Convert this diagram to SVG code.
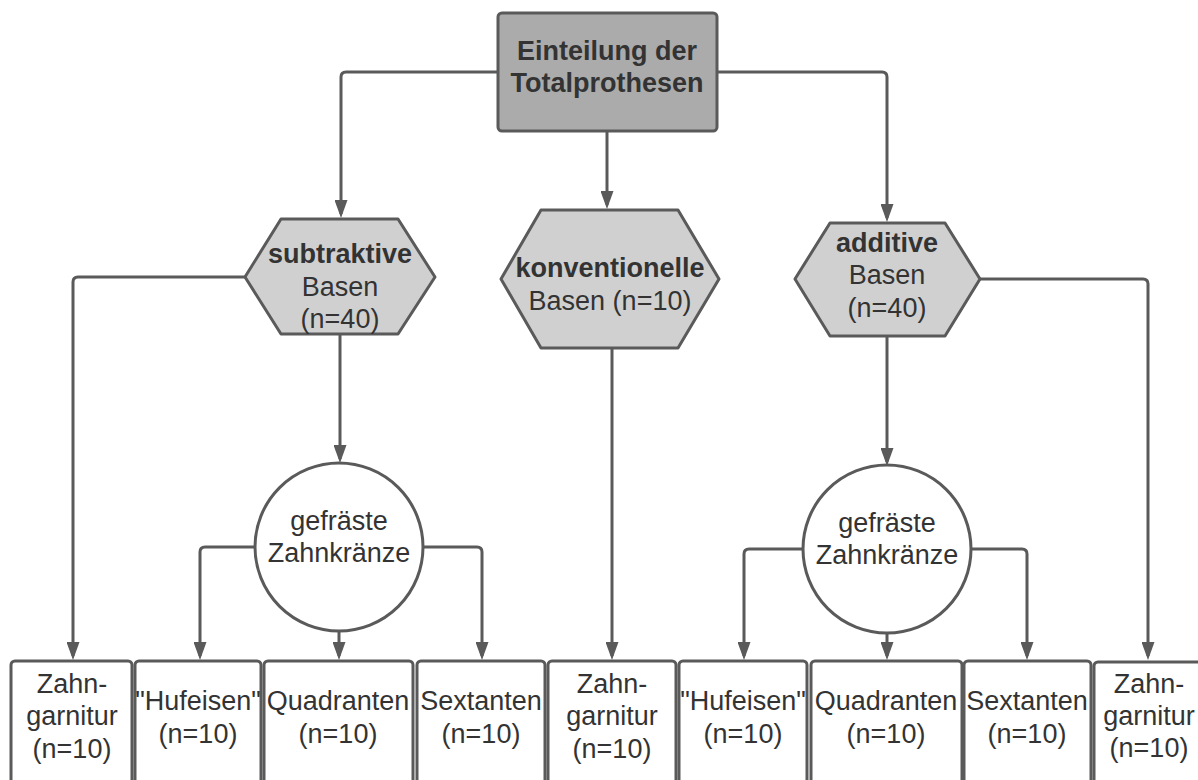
<svg xmlns="http://www.w3.org/2000/svg" width="1198" height="780" viewBox="0 0 1198 780">
<defs>
<style>
.shape{stroke:#5a5a5a;stroke-width:3;stroke-linejoin:round}
.top{fill:#ababab}
.hex{fill:#d0d0d0}
.white{fill:#ffffff}
.conn{fill:none;stroke:#5a5a5a;stroke-width:3;marker-end:url(#arrow)}
text{font-family:"Liberation Sans",Arial,sans-serif;font-size:27px;fill:#333333;text-anchor:middle}
.b{font-weight:bold}
</style>
<marker id="arrow" viewBox="0 0 18 13" refX="14" refY="6.5" markerWidth="18" markerHeight="13" markerUnits="userSpaceOnUse" orient="auto">
<path d="M0,0 L18,6.5 L0,13 z" fill="#5a5a5a"/>
</marker>
</defs>
<rect width="1198" height="780" fill="#ffffff"/>

<g id="connectors">
<path class="conn" d="M498,72 H346 Q341,72 341,77 V214"/>
<path class="conn" d="M607,131 V205"/>
<path class="conn" d="M717,72 H882 Q887,72 887,77 V218"/>
<path class="conn" d="M245,277 H78 Q73,277 73,282 V656"/>
<path class="conn" d="M340,334 V459"/>
<path class="conn" d="M255,547 H205 Q200,547 200,552 V656"/>
<path class="conn" d="M423,547 H477 Q482,547 482,552 V656"/>
<path class="conn" d="M339,631 V656"/>
<path class="conn" d="M612,349 V656"/>
<path class="conn" d="M887,337 V462"/>
<path class="conn" d="M980,279 H1143 Q1148,279 1148,284 V656"/>
<path class="conn" d="M803,549 H749 Q744,549 744,554 V656"/>
<path class="conn" d="M971,549 H1022 Q1027,549 1027,554 V656"/>
<path class="conn" d="M887,633 V656"/>
</g>

<g id="root">
<rect class="shape top" x="498" y="13" width="219" height="118" rx="4"/>
<text class="b" x="607" y="60">Einteilung der</text>
<text class="b" x="607" y="92">Totalprothesen</text>
</g>

<g id="subtraktive">
<polygon class="shape hex" points="245,277 281,219 398,219 435,277 398,334 281,334"/>
<text class="b" x="340" y="263">subtraktive</text>
<text x="340" y="296">Basen</text>
<text x="340" y="328">(n=40)</text>
</g>

<g id="konventionelle">
<polygon class="shape hex" points="501,279 541,210 678,210 719,279 678,348 541,348"/>
<text class="b" x="610" y="277">konventionelle</text>
<text x="610" y="310">Basen (n=10)</text>
</g>

<g id="additive">
<polygon class="shape hex" points="795,279 830,223 945,223 980,279 945,336 830,336"/>
<text class="b" x="887" y="252">additive</text>
<text x="887" y="284">Basen</text>
<text x="887" y="317">(n=40)</text>
</g>

<g id="circle-left">
<circle class="shape white" cx="339" cy="547" r="84"/>
<text x="339" y="530">gefräste</text>
<text x="339" y="562">Zahnkränze</text>
</g>

<g id="circle-right">
<circle class="shape white" cx="887" cy="549" r="84"/>
<text x="887" y="532">gefräste</text>
<text x="887" y="564">Zahnkränze</text>
</g>

<g id="box1">
<rect class="shape white" x="11" y="661" width="121" height="140" rx="4"/>
<text x="72" y="693">Zahn-</text>
<text x="72" y="725">garnitur</text>
<text x="72" y="758">(n=10)</text>
</g>
<g id="box2">
<rect class="shape white" x="135" y="661" width="126" height="140" rx="4"/>
<text x="198" y="710">"Hufeisen"</text>
<text x="198" y="743">(n=10)</text>
</g>
<g id="box3">
<rect class="shape white" x="264" y="661" width="149" height="140" rx="4"/>
<text x="338" y="710">Quadranten</text>
<text x="338" y="743">(n=10)</text>
</g>
<g id="box4">
<rect class="shape white" x="417" y="661" width="128" height="140" rx="4"/>
<text x="481" y="710">Sextanten</text>
<text x="481" y="743">(n=10)</text>
</g>
<g id="box5">
<rect class="shape white" x="548" y="661" width="128" height="140" rx="4"/>
<text x="612" y="693">Zahn-</text>
<text x="612" y="725">garnitur</text>
<text x="612" y="758">(n=10)</text>
</g>
<g id="box6">
<rect class="shape white" x="679" y="661" width="128" height="140" rx="4"/>
<text x="743" y="710">"Hufeisen"</text>
<text x="743" y="743">(n=10)</text>
</g>
<g id="box7">
<rect class="shape white" x="811" y="661" width="151" height="140" rx="4"/>
<text x="886" y="710">Quadranten</text>
<text x="886" y="743">(n=10)</text>
</g>
<g id="box8">
<rect class="shape white" x="964" y="661" width="127" height="140" rx="4"/>
<text x="1027" y="710">Sextanten</text>
<text x="1027" y="743">(n=10)</text>
</g>
<g id="box9">
<rect class="shape white" x="1094" y="662" width="130" height="140" rx="4"/>
<text x="1149" y="693">Zahn-</text>
<text x="1149" y="725">garnitur</text>
<text x="1149" y="757">(n=10)</text>
</g>
</svg>
